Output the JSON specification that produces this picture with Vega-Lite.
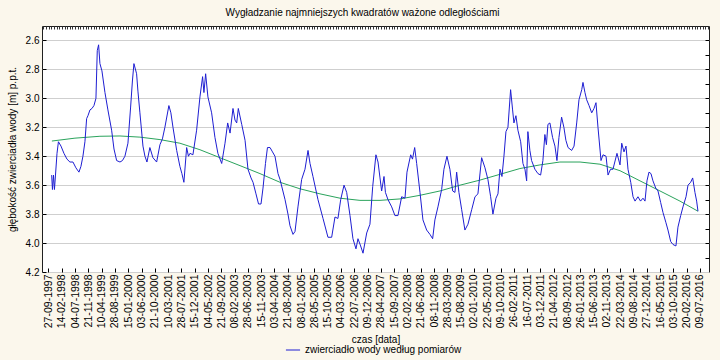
{
  "$schema": "https://vega.github.io/schema/vega-lite/v6.json",
  "autosize": {"type": "none"},
  "width": 667,
  "height": 246,
  "padding": {"left": 42, "top": 26, "right": 11, "bottom": 88},
  "background": "#fbf7ec",
  "config": {
    "font": "Liberation Sans",
    "view": {"fill": "white", "stroke": "#202020", "strokeWidth": 1},
    "axis": {"labelFont": "Liberation Sans", "titleFont": "Liberation Sans", "labelColor": "black", "titleColor": "black", "titleFontWeight": "normal", "labelFontSize": 10, "titleFontSize": 10}
  },
  "title": {"text": "Wygładzanie najmniejszych kwadratów ważone odległościami", "fontSize": 10, "fontWeight": "normal", "font": "Liberation Sans", "color": "black", "anchor": "middle", "frame": "group", "dx": -13, "offset": 8},
  "datasets": {
    "trend": [
      {"date": "1997-11-02", "depth": 3.295},
      {"date": "1998-07-03", "depth": 3.275},
      {"date": "1999-03-23", "depth": 3.262},
      {"date": "1999-10-20", "depth": 3.26},
      {"date": "2000-05-17", "depth": 3.268},
      {"date": "2000-12-14", "depth": 3.285},
      {"date": "2001-07-12", "depth": 3.31},
      {"date": "2002-02-08", "depth": 3.355},
      {"date": "2002-09-06", "depth": 3.41},
      {"date": "2003-04-06", "depth": 3.465},
      {"date": "2003-11-02", "depth": 3.52},
      {"date": "2004-05-31", "depth": 3.58},
      {"date": "2004-12-27", "depth": 3.625},
      {"date": "2005-07-26", "depth": 3.66},
      {"date": "2006-02-22", "depth": 3.69},
      {"date": "2006-09-20", "depth": 3.705},
      {"date": "2007-04-19", "depth": 3.705},
      {"date": "2007-11-15", "depth": 3.695},
      {"date": "2008-06-13", "depth": 3.67},
      {"date": "2009-01-09", "depth": 3.64},
      {"date": "2009-08-08", "depth": 3.60},
      {"date": "2010-03-06", "depth": 3.565},
      {"date": "2010-10-03", "depth": 3.525},
      {"date": "2011-05-01", "depth": 3.485},
      {"date": "2011-11-28", "depth": 3.46},
      {"date": "2012-06-25", "depth": 3.44},
      {"date": "2013-01-23", "depth": 3.44},
      {"date": "2013-08-21", "depth": 3.455},
      {"date": "2014-03-20", "depth": 3.50},
      {"date": "2014-10-16", "depth": 3.57},
      {"date": "2015-05-15", "depth": 3.64},
      {"date": "2015-12-11", "depth": 3.71},
      {"date": "2016-06-18", "depth": 3.78}
    ],
    "obs": [
      {"date": "1997-10-31", "depth": 3.53},
      {"date": "1997-11-08", "depth": 3.63},
      {"date": "1997-11-19", "depth": 3.53},
      {"date": "1997-11-29", "depth": 3.63},
      {"date": "1997-12-10", "depth": 3.53},
      {"date": "1997-12-26", "depth": 3.38},
      {"date": "1998-01-10", "depth": 3.30},
      {"date": "1998-02-06", "depth": 3.33},
      {"date": "1998-03-09", "depth": 3.38},
      {"date": "1998-04-10", "depth": 3.42},
      {"date": "1998-05-11", "depth": 3.44},
      {"date": "1998-06-12", "depth": 3.44},
      {"date": "1998-07-13", "depth": 3.48},
      {"date": "1998-08-14", "depth": 3.51},
      {"date": "1998-09-04", "depth": 3.47},
      {"date": "1998-09-25", "depth": 3.40},
      {"date": "1998-10-16", "depth": 3.30},
      {"date": "1998-11-03", "depth": 3.14},
      {"date": "1998-11-17", "depth": 3.12},
      {"date": "1998-12-08", "depth": 3.08},
      {"date": "1998-12-29", "depth": 3.07},
      {"date": "1999-01-19", "depth": 3.05},
      {"date": "1999-02-09", "depth": 3.00},
      {"date": "1999-02-23", "depth": 2.67},
      {"date": "1999-03-09", "depth": 2.63},
      {"date": "1999-03-23", "depth": 2.76},
      {"date": "1999-04-13", "depth": 2.81},
      {"date": "1999-05-15", "depth": 2.96},
      {"date": "1999-06-15", "depth": 3.08},
      {"date": "1999-07-24", "depth": 3.22},
      {"date": "1999-08-18", "depth": 3.35},
      {"date": "1999-09-15", "depth": 3.43},
      {"date": "1999-10-20", "depth": 3.44},
      {"date": "1999-11-15", "depth": 3.43},
      {"date": "1999-12-11", "depth": 3.40},
      {"date": "2000-01-12", "depth": 3.31},
      {"date": "2000-02-09", "depth": 3.06},
      {"date": "2000-02-28", "depth": 2.88},
      {"date": "2000-03-15", "depth": 2.76},
      {"date": "2000-04-12", "depth": 2.83},
      {"date": "2000-04-26", "depth": 2.95},
      {"date": "2000-05-17", "depth": 3.10},
      {"date": "2000-06-18", "depth": 3.33},
      {"date": "2000-07-09", "depth": 3.40},
      {"date": "2000-07-30", "depth": 3.44},
      {"date": "2000-08-30", "depth": 3.34},
      {"date": "2000-10-01", "depth": 3.41},
      {"date": "2000-11-09", "depth": 3.44},
      {"date": "2000-12-14", "depth": 3.32},
      {"date": "2001-01-09", "depth": 3.28},
      {"date": "2001-02-04", "depth": 3.20},
      {"date": "2001-03-18", "depth": 3.05},
      {"date": "2001-04-08", "depth": 3.10},
      {"date": "2001-04-30", "depth": 3.20},
      {"date": "2001-06-08", "depth": 3.36},
      {"date": "2001-07-12", "depth": 3.47},
      {"date": "2001-08-02", "depth": 3.52},
      {"date": "2001-08-23", "depth": 3.58},
      {"date": "2001-09-21", "depth": 3.34},
      {"date": "2001-10-10", "depth": 3.40},
      {"date": "2001-10-26", "depth": 3.38},
      {"date": "2001-11-26", "depth": 3.39},
      {"date": "2002-01-04", "depth": 3.22},
      {"date": "2002-02-08", "depth": 2.99},
      {"date": "2002-03-08", "depth": 2.85},
      {"date": "2002-03-22", "depth": 2.96},
      {"date": "2002-04-09", "depth": 2.83},
      {"date": "2002-05-03", "depth": 2.99},
      {"date": "2002-06-11", "depth": 3.10},
      {"date": "2002-07-16", "depth": 3.27},
      {"date": "2002-08-16", "depth": 3.38},
      {"date": "2002-09-25", "depth": 3.45},
      {"date": "2002-10-30", "depth": 3.31},
      {"date": "2002-11-27", "depth": 3.17},
      {"date": "2002-12-22", "depth": 3.24},
      {"date": "2003-01-22", "depth": 3.07},
      {"date": "2003-02-12", "depth": 3.15},
      {"date": "2003-03-02", "depth": 3.17},
      {"date": "2003-03-19", "depth": 3.07},
      {"date": "2003-04-24", "depth": 3.18},
      {"date": "2003-05-29", "depth": 3.29},
      {"date": "2003-06-29", "depth": 3.49},
      {"date": "2003-07-31", "depth": 3.55},
      {"date": "2003-08-21", "depth": 3.58},
      {"date": "2003-09-21", "depth": 3.66},
      {"date": "2003-10-18", "depth": 3.73},
      {"date": "2003-11-13", "depth": 3.73},
      {"date": "2003-12-04", "depth": 3.62},
      {"date": "2003-12-30", "depth": 3.45},
      {"date": "2004-01-20", "depth": 3.34},
      {"date": "2004-02-16", "depth": 3.34},
      {"date": "2004-03-13", "depth": 3.37},
      {"date": "2004-04-08", "depth": 3.40},
      {"date": "2004-05-10", "depth": 3.52},
      {"date": "2004-05-31", "depth": 3.56},
      {"date": "2004-07-23", "depth": 3.70},
      {"date": "2004-08-23", "depth": 3.80},
      {"date": "2004-09-13", "depth": 3.88},
      {"date": "2004-10-15", "depth": 3.94},
      {"date": "2004-11-05", "depth": 3.92},
      {"date": "2004-12-06", "depth": 3.75},
      {"date": "2005-01-14", "depth": 3.56},
      {"date": "2005-02-18", "depth": 3.49},
      {"date": "2005-03-22", "depth": 3.36},
      {"date": "2005-04-12", "depth": 3.45},
      {"date": "2005-05-13", "depth": 3.54},
      {"date": "2005-07-05", "depth": 3.70},
      {"date": "2005-08-27", "depth": 3.83},
      {"date": "2005-10-18", "depth": 3.96},
      {"date": "2005-11-26", "depth": 3.96},
      {"date": "2005-12-31", "depth": 3.82},
      {"date": "2006-01-31", "depth": 3.83},
      {"date": "2006-03-01", "depth": 3.70},
      {"date": "2006-04-05", "depth": 3.60},
      {"date": "2006-05-03", "depth": 3.65},
      {"date": "2006-06-07", "depth": 3.81},
      {"date": "2006-07-08", "depth": 3.97},
      {"date": "2006-08-09", "depth": 4.04},
      {"date": "2006-08-30", "depth": 3.97},
      {"date": "2006-09-27", "depth": 4.02},
      {"date": "2006-10-22", "depth": 4.07},
      {"date": "2006-11-30", "depth": 3.93},
      {"date": "2007-01-03", "depth": 3.87},
      {"date": "2007-02-01", "depth": 3.61},
      {"date": "2007-03-07", "depth": 3.39},
      {"date": "2007-03-29", "depth": 3.44},
      {"date": "2007-04-19", "depth": 3.55},
      {"date": "2007-05-06", "depth": 3.64},
      {"date": "2007-05-31", "depth": 3.54},
      {"date": "2007-06-15", "depth": 3.65},
      {"date": "2007-07-12", "depth": 3.70},
      {"date": "2007-08-20", "depth": 3.75},
      {"date": "2007-09-23", "depth": 3.81},
      {"date": "2007-10-25", "depth": 3.81},
      {"date": "2007-12-03", "depth": 3.68},
      {"date": "2008-01-07", "depth": 3.69},
      {"date": "2008-01-28", "depth": 3.51},
      {"date": "2008-03-07", "depth": 3.39},
      {"date": "2008-03-26", "depth": 3.42},
      {"date": "2008-04-18", "depth": 3.34},
      {"date": "2008-05-09", "depth": 3.45},
      {"date": "2008-06-13", "depth": 3.65},
      {"date": "2008-07-14", "depth": 3.84},
      {"date": "2008-08-22", "depth": 3.91},
      {"date": "2008-09-26", "depth": 3.94},
      {"date": "2008-10-24", "depth": 3.97},
      {"date": "2008-11-17", "depth": 3.84},
      {"date": "2008-12-19", "depth": 3.75},
      {"date": "2009-01-27", "depth": 3.63},
      {"date": "2009-02-20", "depth": 3.49},
      {"date": "2009-03-24", "depth": 3.40},
      {"date": "2009-04-24", "depth": 3.49},
      {"date": "2009-05-23", "depth": 3.64},
      {"date": "2009-06-16", "depth": 3.65},
      {"date": "2009-07-04", "depth": 3.51},
      {"date": "2009-07-28", "depth": 3.65},
      {"date": "2009-08-26", "depth": 3.77},
      {"date": "2009-09-29", "depth": 3.91},
      {"date": "2009-10-31", "depth": 3.87},
      {"date": "2009-12-09", "depth": 3.77},
      {"date": "2010-01-13", "depth": 3.68},
      {"date": "2010-02-13", "depth": 3.66},
      {"date": "2010-03-24", "depth": 3.41},
      {"date": "2010-04-28", "depth": 3.48},
      {"date": "2010-05-29", "depth": 3.56},
      {"date": "2010-06-27", "depth": 3.68},
      {"date": "2010-07-21", "depth": 3.80},
      {"date": "2010-08-22", "depth": 3.69},
      {"date": "2010-09-12", "depth": 3.66},
      {"date": "2010-10-03", "depth": 3.49},
      {"date": "2010-10-24", "depth": 3.54},
      {"date": "2010-11-14", "depth": 3.40},
      {"date": "2010-12-05", "depth": 3.23},
      {"date": "2010-12-26", "depth": 3.20},
      {"date": "2011-01-23", "depth": 2.94},
      {"date": "2011-02-13", "depth": 3.08},
      {"date": "2011-02-27", "depth": 3.17},
      {"date": "2011-03-20", "depth": 3.12},
      {"date": "2011-04-10", "depth": 3.22},
      {"date": "2011-05-09", "depth": 3.30},
      {"date": "2011-06-02", "depth": 3.45},
      {"date": "2011-06-23", "depth": 3.49},
      {"date": "2011-07-11", "depth": 3.57},
      {"date": "2011-07-24", "depth": 3.23},
      {"date": "2011-08-14", "depth": 3.36},
      {"date": "2011-09-01", "depth": 3.43},
      {"date": "2011-10-06", "depth": 3.49},
      {"date": "2011-11-07", "depth": 3.52},
      {"date": "2011-12-05", "depth": 3.53},
      {"date": "2011-12-29", "depth": 3.43},
      {"date": "2012-01-19", "depth": 3.25},
      {"date": "2012-02-04", "depth": 3.32},
      {"date": "2012-02-20", "depth": 3.18},
      {"date": "2012-03-12", "depth": 3.17},
      {"date": "2012-04-09", "depth": 3.27},
      {"date": "2012-05-04", "depth": 3.33},
      {"date": "2012-05-25", "depth": 3.43},
      {"date": "2012-06-15", "depth": 3.27},
      {"date": "2012-07-13", "depth": 3.13},
      {"date": "2012-08-06", "depth": 3.20},
      {"date": "2012-08-27", "depth": 3.29},
      {"date": "2012-09-19", "depth": 3.34},
      {"date": "2012-10-27", "depth": 3.36},
      {"date": "2012-11-21", "depth": 3.33},
      {"date": "2012-12-19", "depth": 3.17},
      {"date": "2013-01-12", "depth": 3.01},
      {"date": "2013-02-10", "depth": 2.94},
      {"date": "2013-02-23", "depth": 2.89},
      {"date": "2013-03-16", "depth": 2.96},
      {"date": "2013-04-03", "depth": 3.01},
      {"date": "2013-04-28", "depth": 3.05},
      {"date": "2013-05-26", "depth": 3.10},
      {"date": "2013-06-19", "depth": 3.07},
      {"date": "2013-07-10", "depth": 3.03},
      {"date": "2013-07-31", "depth": 3.20},
      {"date": "2013-09-01", "depth": 3.43},
      {"date": "2013-09-22", "depth": 3.39},
      {"date": "2013-10-24", "depth": 3.40},
      {"date": "2013-11-14", "depth": 3.53},
      {"date": "2013-12-10", "depth": 3.49},
      {"date": "2014-01-05", "depth": 3.49},
      {"date": "2014-02-16", "depth": 3.38},
      {"date": "2014-03-20", "depth": 3.46},
      {"date": "2014-04-07", "depth": 3.31},
      {"date": "2014-05-01", "depth": 3.37},
      {"date": "2014-05-22", "depth": 3.33},
      {"date": "2014-06-12", "depth": 3.49},
      {"date": "2014-07-11", "depth": 3.58},
      {"date": "2014-08-04", "depth": 3.68},
      {"date": "2014-08-25", "depth": 3.71},
      {"date": "2014-09-25", "depth": 3.68},
      {"date": "2014-10-22", "depth": 3.71},
      {"date": "2014-11-17", "depth": 3.69},
      {"date": "2014-12-08", "depth": 3.71},
      {"date": "2014-12-29", "depth": 3.57},
      {"date": "2015-01-19", "depth": 3.51},
      {"date": "2015-02-09", "depth": 3.52},
      {"date": "2015-03-02", "depth": 3.57},
      {"date": "2015-03-31", "depth": 3.62},
      {"date": "2015-04-24", "depth": 3.64},
      {"date": "2015-05-22", "depth": 3.72},
      {"date": "2015-06-16", "depth": 3.79},
      {"date": "2015-07-17", "depth": 3.86},
      {"date": "2015-08-07", "depth": 3.91},
      {"date": "2015-09-05", "depth": 3.99},
      {"date": "2015-09-29", "depth": 4.01},
      {"date": "2015-10-30", "depth": 4.02},
      {"date": "2015-11-20", "depth": 3.89},
      {"date": "2015-12-19", "depth": 3.81},
      {"date": "2016-01-12", "depth": 3.75},
      {"date": "2016-02-13", "depth": 3.68},
      {"date": "2016-03-05", "depth": 3.60},
      {"date": "2016-04-02", "depth": 3.58},
      {"date": "2016-04-23", "depth": 3.55},
      {"date": "2016-05-17", "depth": 3.65},
      {"date": "2016-06-04", "depth": 3.71},
      {"date": "2016-06-18", "depth": 3.78}
    ]
  },
  "resolve": {"axis": {"x": "independent", "y": "independent"}},
  "layer": [
    {
      "data": {"name": "trend"},
      "mark": {"type": "line", "color": "#2aa35c", "strokeWidth": 1},
      "encoding": {
        "x": {
          "field": "date", "type": "temporal",
          "scale": {"type": "utc", "domain": [{"year": 1997, "month": 7, "date": 21, "utc": true}, {"year": 2016, "month": 10, "date": 12, "utc": true}]},
          "axis": {
            "orient": "bottom", "title": "czas [data]", "labelExpr": "utcFormat(datum.value, '%d-%m-%Y')",
            "labelAngle": 270, "labelAlign": "right", "labelBaseline": "middle", "labelPadding": 6, "labelOverlap": false, "labelFlush": false, "labelFontSize": 10.5,
            "tickSize": -4, "tickColor": "black", "domain": false, "grid": false, "titlePadding": 7,
            "values": [
              {"year": 1997, "month": 9, "date": 27, "utc": true},
              {"year": 1998, "month": 2, "date": 14, "utc": true},
              {"year": 1998, "month": 7, "date": 4, "utc": true},
              {"year": 1998, "month": 11, "date": 21, "utc": true},
              {"year": 1999, "month": 4, "date": 10, "utc": true},
              {"year": 1999, "month": 8, "date": 28, "utc": true},
              {"year": 2000, "month": 1, "date": 15, "utc": true},
              {"year": 2000, "month": 6, "date": 3, "utc": true},
              {"year": 2000, "month": 10, "date": 21, "utc": true},
              {"year": 2001, "month": 3, "date": 10, "utc": true},
              {"year": 2001, "month": 7, "date": 28, "utc": true},
              {"year": 2001, "month": 12, "date": 15, "utc": true},
              {"year": 2002, "month": 5, "date": 4, "utc": true},
              {"year": 2002, "month": 9, "date": 21, "utc": true},
              {"year": 2003, "month": 2, "date": 8, "utc": true},
              {"year": 2003, "month": 6, "date": 28, "utc": true},
              {"year": 2003, "month": 11, "date": 15, "utc": true},
              {"year": 2004, "month": 4, "date": 3, "utc": true},
              {"year": 2004, "month": 8, "date": 21, "utc": true},
              {"year": 2005, "month": 1, "date": 8, "utc": true},
              {"year": 2005, "month": 5, "date": 28, "utc": true},
              {"year": 2005, "month": 10, "date": 15, "utc": true},
              {"year": 2006, "month": 3, "date": 4, "utc": true},
              {"year": 2006, "month": 7, "date": 22, "utc": true},
              {"year": 2006, "month": 12, "date": 9, "utc": true},
              {"year": 2007, "month": 4, "date": 28, "utc": true},
              {"year": 2007, "month": 9, "date": 15, "utc": true},
              {"year": 2008, "month": 2, "date": 2, "utc": true},
              {"year": 2008, "month": 6, "date": 21, "utc": true},
              {"year": 2008, "month": 11, "date": 8, "utc": true},
              {"year": 2009, "month": 3, "date": 28, "utc": true},
              {"year": 2009, "month": 8, "date": 15, "utc": true},
              {"year": 2010, "month": 1, "date": 2, "utc": true},
              {"year": 2010, "month": 5, "date": 22, "utc": true},
              {"year": 2010, "month": 10, "date": 9, "utc": true},
              {"year": 2011, "month": 2, "date": 26, "utc": true},
              {"year": 2011, "month": 7, "date": 16, "utc": true},
              {"year": 2011, "month": 12, "date": 3, "utc": true},
              {"year": 2012, "month": 4, "date": 21, "utc": true},
              {"year": 2012, "month": 9, "date": 8, "utc": true},
              {"year": 2013, "month": 1, "date": 26, "utc": true},
              {"year": 2013, "month": 6, "date": 15, "utc": true},
              {"year": 2013, "month": 11, "date": 2, "utc": true},
              {"year": 2014, "month": 3, "date": 22, "utc": true},
              {"year": 2014, "month": 8, "date": 9, "utc": true},
              {"year": 2014, "month": 12, "date": 27, "utc": true},
              {"year": 2015, "month": 5, "date": 16, "utc": true},
              {"year": 2015, "month": 10, "date": 3, "utc": true},
              {"year": 2016, "month": 2, "date": 20, "utc": true},
              {"year": 2016, "month": 7, "date": 9, "utc": true}
            ]
          }
        },
        "y": {
          "field": "depth", "type": "quantitative",
          "scale": {"domain": [2.5, 4.2], "reverse": true, "nice": false, "zero": false},
          "axis": {
            "orient": "left", "title": "głębokość zwierciadła wody [m] p.p.t.", "values": [2.6, 2.8, 3.0, 3.2, 3.4, 3.6, 3.8, 4.0, 4.2], "format": ".1f",
            "grid": true, "gridColor": "#cfcfcf", "gridOpacity": 1, "gridWidth": 1, "domain": false,
            "tickSize": -4, "tickColor": "black", "labelPadding": 7, "titlePadding": 8
          }
        }
      }
    },
    {
      "data": {"name": "obs"},
      "mark": {"type": "line", "strokeWidth": 1},
      "encoding": {
        "x": {
          "field": "date", "type": "temporal",
          "axis": {"orient": "top", "title": null, "labels": false, "domain": false, "grid": false, "tickSize": -3, "tickColor": "#333333", "tickCount": {"interval": "week", "step": 4}}
        },
        "y": {
          "field": "depth", "type": "quantitative",
          "axis": {"orient": "right", "title": null, "labels": false, "domain": false, "grid": false, "tickSize": -4, "tickColor": "black", "values": [2.6, 2.7, 2.8, 2.9, 3.0, 3.1, 3.2, 3.3, 3.4, 3.5, 3.6, 3.7, 3.8, 3.9, 4.0, 4.1]}
        },
        "color": {
          "datum": "zwierciadło wody według pomiarów",
          "scale": {"range": ["#1e1ed2"]},
          "legend": {"title": null, "orient": "none", "legendX": 243, "legendY": 316, "symbolType": "stroke", "symbolSize": 200, "symbolStrokeWidth": 1, "labelFontSize": 10, "labelFont": "Liberation Sans", "labelColor": "black"}
        }
      }
    }
  ]
}
